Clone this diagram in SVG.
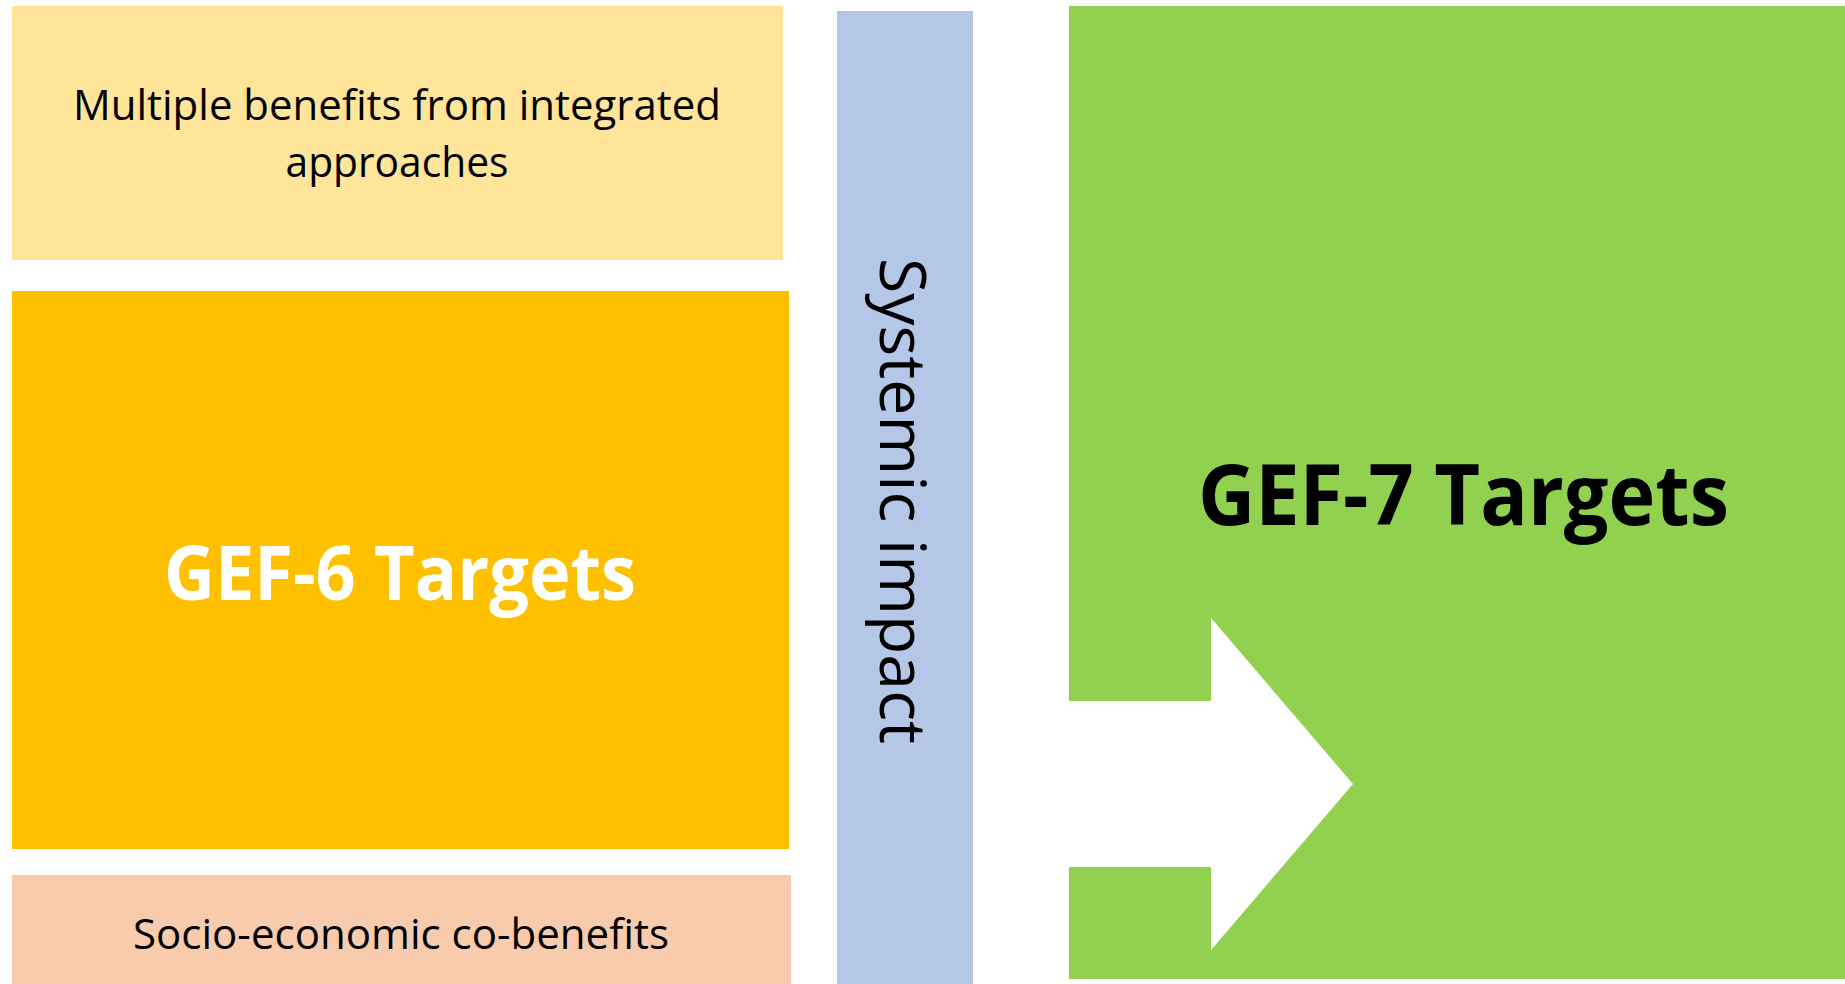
<svg xmlns="http://www.w3.org/2000/svg" width="1845" height="984" viewBox="0 0 1845 984">
<style>
  .t { font-family: "Open Sans", "Liberation Sans", sans-serif; text-anchor: middle; }
  .reg { font-weight: normal; fill: #000000; font-size: 42px; }
  .big { font-weight: bold; }
</style>
<rect x="0" y="0" width="1845" height="984" fill="#FFFFFF"/>
<g id="multiple-benefits">
  <rect x="12" y="6" width="771" height="254" fill="#FFE599"/>
  <text class="t reg" x="397" y="120" textLength="648" lengthAdjust="spacingAndGlyphs">Multiple benefits from integrated</text>
  <text class="t reg" x="397" y="177" textLength="223" lengthAdjust="spacingAndGlyphs">approaches</text>
</g>
<g id="gef6-targets">
  <rect x="12" y="291" width="777" height="558" fill="#FFC000"/>
  <text class="t big" x="400" y="600" font-size="75" fill="#FFFFFF" textLength="472" lengthAdjust="spacingAndGlyphs">GEF-6 Targets</text>
</g>
<g id="socio-economic">
  <rect x="12" y="875" width="779" height="109" fill="#F8CBAD"/>
  <text class="t reg" x="401" y="949" textLength="536" lengthAdjust="spacingAndGlyphs">Socio-economic co-benefits</text>
</g>
<g id="systemic-impact">
  <rect x="837" y="11" width="136" height="973" fill="#B4C7E7"/>
  <text class="t" x="880" y="501" font-size="64" fill="#000000" transform="rotate(90 880 501)" textLength="486" lengthAdjust="spacingAndGlyphs">Systemic impact</text>
</g>
<g id="gef7-targets">
  <rect x="1069" y="6" width="776" height="973" fill="#92D050"/>
  <text class="t big" x="1463.5" y="525" font-size="85" fill="#000000" textLength="531" lengthAdjust="spacingAndGlyphs">GEF-7 Targets</text>
</g>
<g id="connectors">
  <polygon points="1069,701 1211,701 1211,618 1353,784 1211,950 1211,867 1069,867" fill="#FFFFFF"/>
</g>
</svg>
